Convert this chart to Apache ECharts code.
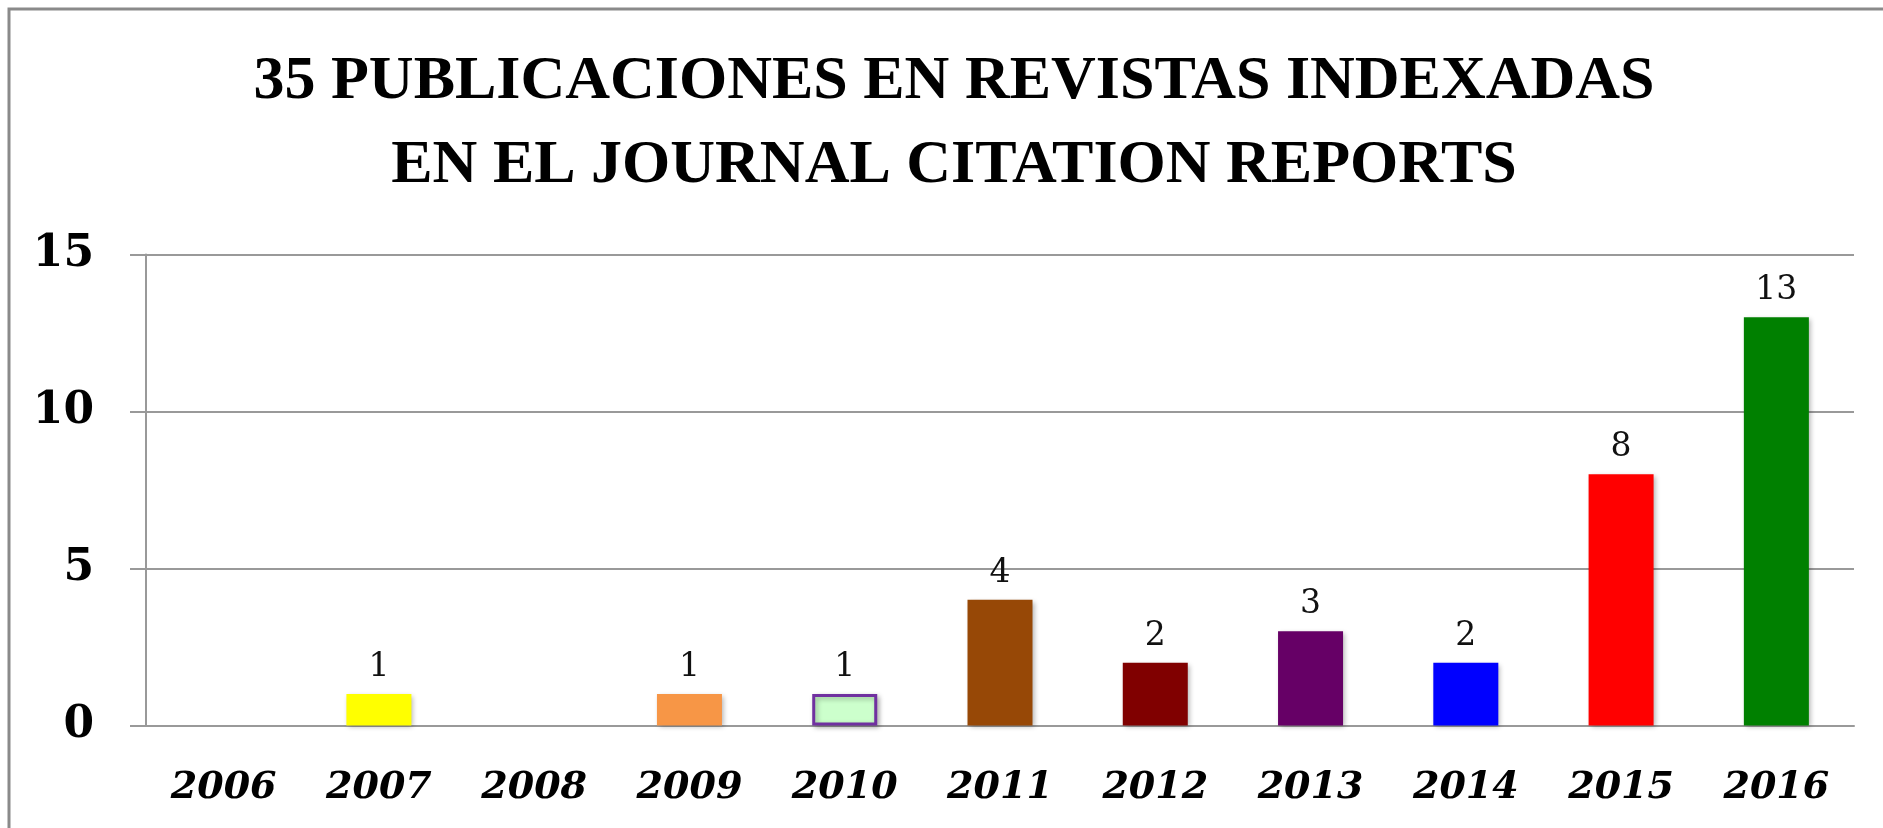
<!DOCTYPE html>
<html>
<head>
<meta charset="utf-8">
<script src="https://cdn.jsdelivr.net/npm/echarts@6/dist/echarts.min.js"></script>
<style>
  html, body { margin: 0; padding: 0; background: #fff; }
  #chart { width: 1883px; height: 828px; }
</style>
</head>
<body>
<div id="chart"></div>
<script>
// years on the x axis
var years = ["2006", "2007", "2008", "2009", "2010", "2011", "2012", "2013", "2014", "2015", "2016"];
// publications per year (35 total)
var pubs = [0, 1, 0, 1, 1, 4, 2, 3, 2, 8, 13];
var yTicks = [0, 5, 10, 15];

var barColors = ["#cccccc", "#FFFF00", "#cccccc", "#F79646", "#CCFFCC", "#974806", "#800000", "#660066", "#0000FF", "#FF0000", "#008000"];

var chart = echarts.init(document.getElementById("chart"));

var seriesData = pubs.map(function (v, i) {
  var item = { value: v, itemStyle: { color: barColors[i] } };
  if (years[i] === "2010") {
    // this one has an outline in the original
    item.itemStyle.borderColor = "#7030A0";
    item.itemStyle.borderWidth = 3;
  }
  return item;
});

var option = {
  animation: false,
  backgroundColor: "#fff",
  title: {
    text: "35 PUBLICACIONES EN REVISTAS INDEXADAS\nEN EL JOURNAL CITATION REPORTS",
    left: 954,
    textAlign: "center",
    top: 40,
    padding: 0,
    textStyle: {
      fontFamily: "Liberation Serif",
      fontWeight: "bold",
      fontSize: 62,
      lineHeight: 84,
      color: "#000"
    }
  },
  graphic: [{
    type: "rect",
    shape: { x: 9, y: 9, width: 1900, height: 900 },
    style: { fill: "none", stroke: "#8a8a8a", lineWidth: 3 },
    silent: true
  }],
  grid: {
    left: 146,
    right: 29,
    top: 254.6,
    bottom: 102.6
  },
  xAxis: {
    type: "category",
    data: years,
    axisLine: { lineStyle: { color: "#999", width: 2 } },
    axisTick: { length: 16, lineStyle: { color: "#999", width: 2 } },
    axisLabel: {
      margin: 44,
      fontFamily: "DejaVu Serif",
      fontWeight: "bold",
      fontStyle: "italic",
      fontSize: 38,
      color: "#000"
    }
  },
  yAxis: {
    type: "value",
    min: yTicks[0],
    max: yTicks[yTicks.length - 1],
    interval: 5,
    axisLine: { show: true, lineStyle: { color: "#999", width: 2 } },
    axisTick: { show: true, length: 16, lineStyle: { color: "#999", width: 2 } },
    splitLine: { lineStyle: { color: "#999", width: 2 } },
    axisLabel: {
      margin: 52,
      fontFamily: "DejaVu Serif",
      fontWeight: "bold",
      fontSize: 44,
      color: "#000"
    }
  },
  series: [{
    type: "bar",
    data: seriesData,
    barWidth: 65,
    itemStyle: {
      shadowBlur: 5,
      shadowOffsetX: 2,
      shadowOffsetY: 2,
      shadowColor: "rgba(0,0,0,0.3)"
    },
    label: {
      show: true,
      position: "top",
      distance: 10,
      fontFamily: "DejaVu Serif",
      fontSize: 33,
      color: "#111",
      formatter: function (p) {
        return p.value ? String(p.value) : "";
      }
    }
  }]
};

chart.setOption(option);
</script>
</body>
</html>
